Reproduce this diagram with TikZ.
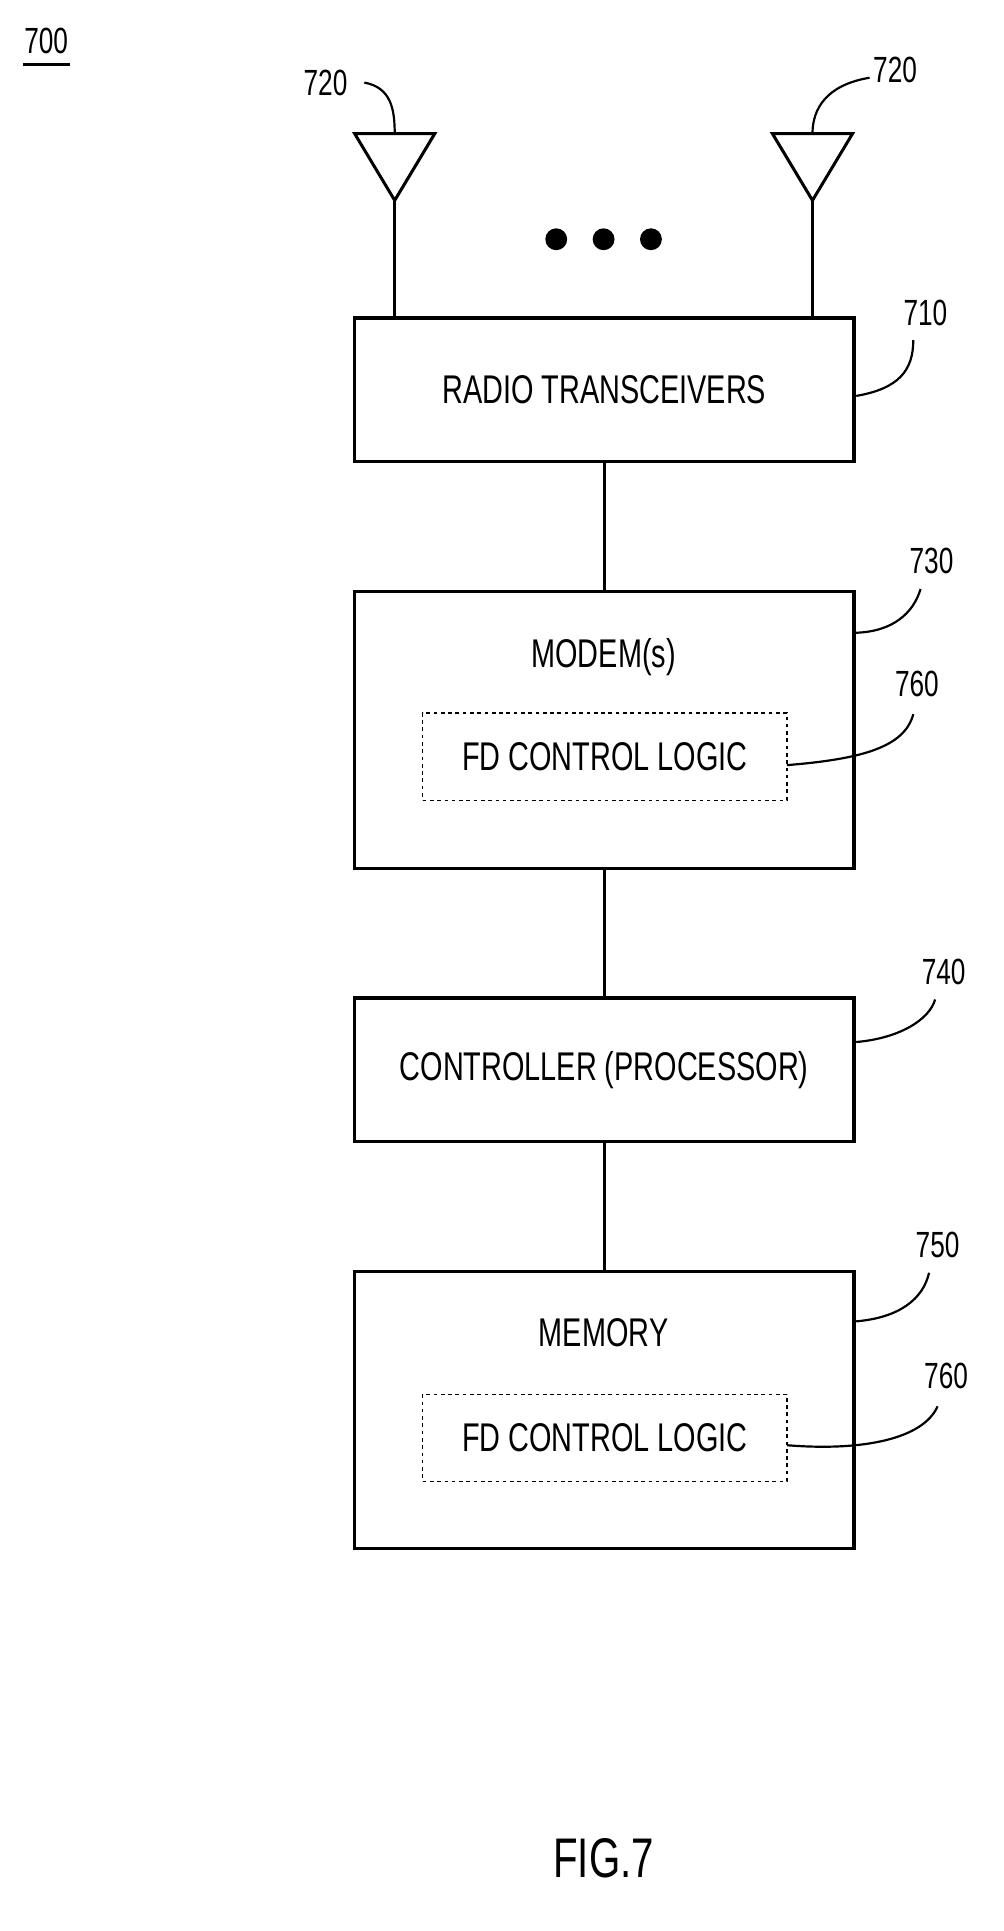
\documentclass[tikz,border=0pt]{standalone}
\usepackage{fontspec}
\setmainfont{Liberation Sans}
\newcommand{\nt}[1]{\scalebox{0.72}[1]{#1}}
\begin{document}
\begin{tikzpicture}[x=1pt,y=-1pt,
  box/.style={draw,line width=3pt},
  inner/.style={draw,dashed,line width=1pt},
  ln/.style={line width=2.5pt},
  ld/.style={line width=1.8pt},
  txt/.style={font=\fontsize{33}{38}\selectfont,inner sep=0pt},
  lbl/.style={font=\fontsize{30}{34}\selectfont,inner sep=0pt}]
\useasboundingbox (0,0) rectangle (826,1590);
\node[lbl] (n700) at (38,34) {\nt{700}};
\draw[line width=2pt] (19,53) -- (58,53);
% antennas
\draw[ln] (292,110) -- (358,110) -- (325,165) -- cycle;
\draw[ln] (636,110) -- (702,110) -- (669,165) -- cycle;
\coordinate (a1) at (325,165); \coordinate (a2) at (669,165);
\fill (458,197) circle (9) (497,197) circle (9) (536,197) circle (9);
\node[lbl] (l720a) at (268,68) {\nt{720}};
\node[lbl] (l720b) at (737,58) {\nt{720}};
\draw[ld] (300,68) .. controls (322,72) and (325,90) .. (325,110);
\draw[ld] (716,64) .. controls (680,70) and (669,90) .. (669,110);
% boxes
\node[box,minimum width=411,minimum height=118,txt] (b710) at (497.5,321) {\nt{RADIO TRANSCEIVERS}};
\node[box,minimum width=411,minimum height=228] (b730) at (497.5,601) {};
\node[txt] (t730) at (497,541) {\nt{MODEM(s)}};
\node[inner,minimum width=300,minimum height=72,txt] (i730) at (498,623) {\nt{FD CONTROL LOGIC}};
\node[box,minimum width=411,minimum height=118,txt] (b740) at (497.5,881) {\nt{CONTROLLER (PROCESSOR)}};
\node[box,minimum width=411,minimum height=228] (b750) at (497.5,1161) {};
\node[txt] (t750) at (497,1097) {\nt{MEMORY}};
\node[inner,minimum width=300,minimum height=72,txt] (i750) at (498,1184) {\nt{FD CONTROL LOGIC}};
% connectors
\draw[ln] (a1) -- (a1 |- b710.north);
\draw[ln] (a2) -- (a2 |- b710.north);
\draw[ln] (b710) -- (b730);
\draw[ln] (b730) -- (b740);
\draw[ln] (b740) -- (b750);
% labels
\node[lbl] (l710) at (762,258) {\nt{710}};
\node[lbl] (l730) at (767,462) {\nt{730}};
\node[lbl] (l760a) at (755,563) {\nt{760}};
\node[lbl] (l740) at (777,800) {\nt{740}};
\node[lbl] (l750) at (772,1025) {\nt{750}};
\node[lbl] (l760b) at (779,1133) {\nt{760}};
\draw[ld] (705,326) .. controls (740,320) and (752,305) .. (752,280);
\draw[ld] (705,521) .. controls (735,520) and (752,505) .. (758,485);
\draw[ld] (648,630) .. controls (710,625) and (745,615) .. (752,588);
\draw[ld] (705,858) .. controls (740,855) and (765,840) .. (770,823);
\draw[ld] (705,1088) .. controls (740,1085) and (760,1070) .. (765,1048);
\draw[ld] (648,1190) .. controls (710,1195) and (760,1185) .. (772,1158);
\node[font=\fontsize{46}{52}\selectfont] (fig) at (497,1530) {\nt{FIG.7}};
\end{tikzpicture}
\end{document}
